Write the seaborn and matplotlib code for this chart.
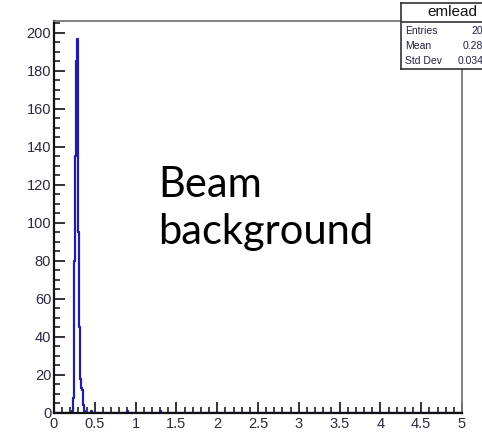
import numpy as np
import pandas as pd
import matplotlib.pyplot as plt
import seaborn as sns
from matplotlib.ticker import MultipleLocator

# histogram "emlead": 500 bins of width 0.01 over [0, 5]
bin_width = 0.01
n_bins = 500
peak_centers = [0.225, 0.235, 0.245, 0.255, 0.265, 0.275, 0.285, 0.295, 0.305,
                0.315, 0.325, 0.335, 0.345, 0.355, 0.365, 0.375, 0.455, 0.905, 1.305]
peak_counts = [1, 8, 35, 80, 135, 185, 197, 160, 95,
               45, 18, 13, 12, 9, 4, 1, 1, 1, 1]

stat_labels = ["Entries", "Mean", "Std Dev"]
stat_values = ["2000", "0.2851", "0.03417"]
hist_name = "emlead"
note_lines = ["Beam", "background"]

centers = np.arange(n_bins) * bin_width + bin_width / 2
counts = np.zeros(n_bins)
for c, v in zip(peak_centers, peak_counts):
    counts[int(round((c - bin_width / 2) / bin_width))] = v
df = pd.DataFrame({"x": centers, "count": counts})

sns.set_theme(style="white")
plt.rcParams["font.family"] = ["Liberation Sans", "DejaVu Sans"]

W, H = 482, 433
fig = plt.figure(figsize=(W / 100, H / 100), dpi=100)
fig.patch.set_facecolor("white")
ax = fig.add_axes([54 / W, (H - 413) / H, (462 - 54) / W, (413 - 21) / H])

sns.lineplot(data=df, x="x", y="count", ax=ax, color="#1f1fa0", lw=1.6,
             drawstyle="steps-mid")

ax.set_xlim(0, 5)
ax.set_ylim(0, 206.3)
ax.set_xlabel("")
ax.set_ylabel("")
ax.xaxis.set_minor_locator(MultipleLocator(0.1))
ax.yaxis.set_major_locator(MultipleLocator(20))
ax.yaxis.set_minor_locator(MultipleLocator(5))
ax.set_xticks([0, 0.5, 1, 1.5, 2, 2.5, 3, 3.5, 4, 4.5, 5])
ax.set_xticklabels(["0", "0.5", "1", "1.5", "2", "2.5", "3", "3.5", "4", "4.5", "5"])
ax.tick_params(axis="both", which="major", direction="in", length=8, width=1.3,
               color="#222222", labelsize=10.5, labelcolor="#2a2a40", pad=2)
ax.tick_params(axis="both", which="minor", direction="in", length=4.5, width=1.2,
               color="#222222")
ax.tick_params(axis="x", which="major", pad=3)
ax.tick_params(left=True, bottom=True, which="both")
for side in ["left", "bottom"]:
    ax.spines[side].set_color("#111111")
    ax.spines[side].set_linewidth(1.6)
for side in ["top", "right"]:
    ax.spines[side].set_color("#777777")
    ax.spines[side].set_linewidth(1.3)

# annotation text, placed in pixel rows of the original slide
x_note = (158 - 54) / (462 - 54) * 5
ax.text(x_note, (413 - 197) / 1.9, note_lines[0], fontsize=30,
        family=["Lato", "DejaVu Sans"], color="black", va="baseline")
ax.text(x_note, (413 - 244) / 1.9, note_lines[1], fontsize=30,
        family=["Lato", "DejaVu Sans"], color="black", va="baseline")

# stats box, clipped at the right edge like the original
box_top, box_bottom, box_left = 3, 69, 401
axb = fig.add_axes([box_left / W, (H - box_bottom) / H, 100 / W, (box_bottom - box_top) / H])
axb.set_xticks([])
axb.set_yticks([])
axb.set_xlim(box_left, box_left + 100)
axb.set_ylim(box_bottom, box_top)
axb.set_facecolor("white")
for s in axb.spines.values():
    s.set_color("#333333")
    s.set_linewidth(1.2)
axb.axhline(22, color="#333333", lw=1.2)
axb.text(452, 12.5, hist_name, ha="center", va="center", fontsize=11, color="#111111")
rows_y = [31, 46, 61]
for lab, val, yy in zip(stat_labels, stat_values, rows_y):
    axb.text(405, yy, lab, ha="left", va="center", fontsize=7.5, color="#222244")
    axb.text(495, yy, val, ha="right", va="center", fontsize=7.5, color="#222244")

fig.savefig("out.png", dpi=100)
